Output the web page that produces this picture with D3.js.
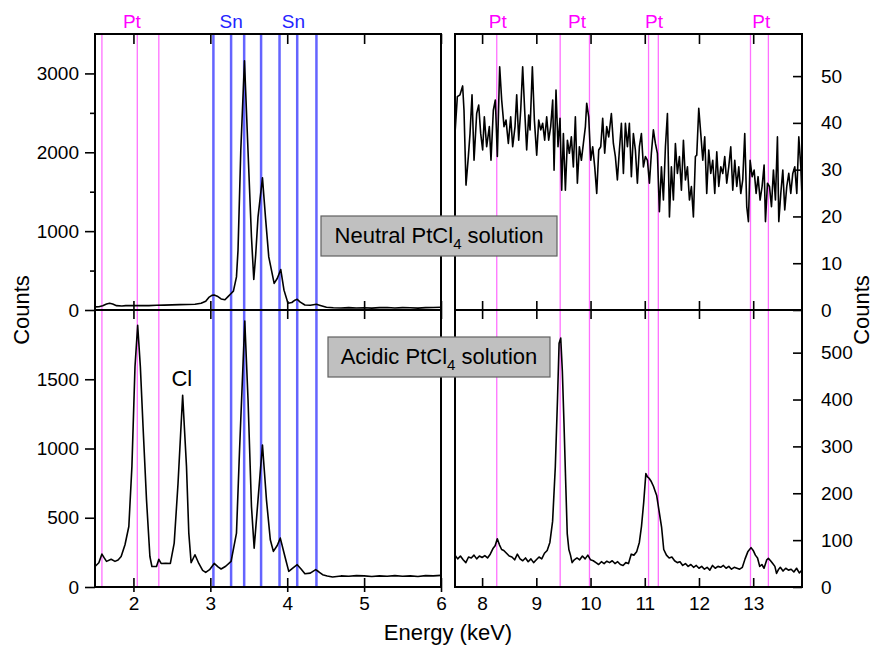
<!DOCTYPE html>
<html>
<head>
<meta charset="utf-8">
<script src="https://cdn.jsdelivr.net/npm/d3@7"></script>
<style>
  body { margin: 0; background: #fff; }
  svg { display: block; font-family: "Liberation Sans", Arial, sans-serif; }
</style>
</head>
<body>
<script>
// emission line energies (keV)
const ptLinesLow = [1.59, 2.05, 2.33];
const snLines = [3.04, 3.27, 3.44, 3.66, 3.90, 4.13, 4.38];
const ptLinesHigh = [8.27, 9.44, 9.98, 11.07, 11.25, 12.95, 13.28];

// labels above the frame
const lowLabels = ["Pt", "Sn", "Sn"];
const lowLabelEnergies = [1.98, 3.27, 4.08];
const highLabels = ["Pt", "Pt", "Pt", "Pt"];
const highLabelEnergies = [8.29, 9.75, 11.17, 13.15];

// tick values
const xTicksLow = [2, 3, 4, 5, 6];
const xTicksHigh = [8, 9, 10, 11, 12, 13];
const yTicksTL = [0, 1000, 2000, 3000];
const yMinorTL = [500, 1500, 2500];
const yTicksBL = [0, 500, 1000, 1500];
const yTicksTR = [0, 10, 20, 30, 40, 50];
const yTicksBR = [0, 100, 200, 300, 400, 500];

// spectra [keV, counts]
const neutralLow = [[1.50,40],[1.55,42],[1.60,55],[1.65,75],[1.69,85],[1.73,75],[1.78,55],[1.85,50],[1.90,55],[2.00,55],[2.10,58],[2.20,55],[2.30,60],[2.40,62],[2.50,65],[2.60,68],[2.70,70],[2.80,72],[2.88,85],[2.94,110],[2.98,160],[3.02,185],[3.05,190],[3.09,175],[3.14,140],[3.19,130],[3.23,170],[3.27,210],[3.30,240],[3.34,420],[3.36,758],[3.396,2020],[3.444,3160],[3.49,2020],[3.535,925],[3.565,387],[3.59,700],[3.62,1178],[3.678,1675],[3.717,1178],[3.76,673],[3.83,337],[3.87,400],[3.916,513],[3.958,252],[4.01,85],[4.06,95],[4.10,125],[4.13,135],[4.17,100],[4.23,63],[4.30,60],[4.38,72],[4.42,60],[4.51,34],[4.60,28],[4.70,25],[4.80,30],[4.90,26],[5.00,28],[5.10,24],[5.20,30],[5.30,32],[5.40,26],[5.50,30],[5.60,28],[5.70,24],[5.80,30],[5.90,32],[6.00,35]];

const acidicLow = [[1.50,148],[1.55,175],[1.59,238],[1.62,210],[1.65,185],[1.71,200],[1.76,185],[1.80,195],[1.84,220],[1.89,305],[1.94,437],[1.98,869],[2.02,1589],[2.055,1890],[2.09,1589],[2.125,1157],[2.17,629],[2.214,220],[2.24,148],[2.30,148],[2.33,200],[2.36,170],[2.42,172],[2.48,170],[2.53,317],[2.58,749],[2.64,1385],[2.69,869],[2.72,389],[2.75,175],[2.80,233],[2.85,170],[2.90,120],[2.94,105],[2.99,125],[3.05,170],[3.10,145],[3.14,130],[3.20,150],[3.27,185],[3.34,389],[3.38,989],[3.448,1921],[3.49,1357],[3.535,581],[3.57,281],[3.62,629],[3.678,1025],[3.73,629],[3.78,341],[3.82,257],[3.87,300],[3.91,353],[3.97,220],[4.02,113],[4.08,140],[4.13,161],[4.18,130],[4.23,96],[4.30,100],[4.37,125],[4.41,110],[4.46,89],[4.52,80],[4.59,72],[4.70,80],[4.80,78],[4.90,82],[5.00,80],[5.10,76],[5.20,80],[5.30,78],[5.40,82],[5.50,78],[5.60,80],[5.70,76],[5.80,82],[5.90,80],[6.00,84]];

const neutralHigh = [[7.500,37.7],[7.543,45.6],[7.592,46],[7.641,47.9],[7.666,42.7],[7.703,26.7],[7.746,32.8],[7.777,37.7],[7.814,46],[7.851,32],[7.900,42],[7.937,43.8],[7.974,37.7],[8.010,34.2],[8.041,41.3],[8.084,34.9],[8.133,39.2],[8.164,32],[8.207,42.7],[8.244,44.9],[8.281,32.8],[8.324,52],[8.361,44.9],[8.404,39.2],[8.441,40.6],[8.484,35.6],[8.527,41.3],[8.564,34.9],[8.607,39.2],[8.638,46],[8.675,36.3],[8.712,42.7],[8.748,52],[8.785,42.7],[8.822,34.2],[8.859,41.7],[8.884,38.5],[8.927,52],[8.964,40.6],[9.007,33.1],[9.044,40.6],[9.081,38.5],[9.117,39.9],[9.154,36.3],[9.191,41.3],[9.228,36.3],[9.265,39.2],[9.302,44.9],[9.327,29.9],[9.363,47],[9.400,34.9],[9.437,41],[9.468,25.6],[9.499,37.7],[9.536,25.6],[9.573,36.3],[9.609,33.5],[9.646,37],[9.683,30.6],[9.720,41.3],[9.757,27.1],[9.794,34.9],[9.831,32],[9.868,35.6],[9.905,39.2],[9.929,44.2],[9.966,41.3],[10.003,32],[10.040,34.9],[10.077,30.6],[10.114,24.9],[10.151,34.2],[10.188,34.9],[10.224,41],[10.261,33.5],[10.298,39.2],[10.335,37],[10.384,42],[10.421,35.6],[10.458,32.8],[10.495,27.8],[10.532,34.2],[10.569,39.9],[10.606,29.2],[10.643,39.9],[10.680,34.9],[10.716,39.9],[10.753,28.5],[10.790,37.7],[10.827,34.2],[10.864,27.1],[10.901,34.9],[10.938,37.7],[10.975,30.6],[11.012,32.8],[11.049,32],[11.086,27.1],[11.122,33.5],[11.159,38.5],[11.196,35.6],[11.233,33.5],[11.270,21],[11.307,30.6],[11.344,23.5],[11.381,34.9],[11.418,42],[11.455,19.9],[11.491,30.6],[11.528,23.5],[11.565,35.6],[11.602,29.2],[11.639,32.8],[11.676,25.6],[11.713,36.3],[11.750,27.8],[11.787,30.6],[11.824,23.5],[11.860,26.4],[11.897,19.9],[11.934,32.8],[11.959,33.1],[11.996,43.1],[12.033,37.7],[12.070,32],[12.106,37],[12.143,24.9],[12.180,34.2],[12.217,29.2],[12.254,32],[12.291,24.9],[12.328,33.8],[12.365,26.4],[12.402,30.6],[12.439,29.2],[12.475,32.8],[12.512,27.1],[12.549,30.6],[12.586,34.9],[12.623,25.6],[12.660,32],[12.697,26.4],[12.734,30.6],[12.771,24.9],[12.807,27.8],[12.844,37.7],[12.881,22.1],[12.912,18.9],[12.943,32],[12.980,28.5],[13.017,29.9],[13.054,24.9],[13.090,28.5],[13.127,23.5],[13.164,26.4],[13.201,31],[13.226,18.9],[13.263,27.1],[13.300,26.4],[13.337,22.1],[13.373,29.9],[13.410,23.5],[13.447,37],[13.472,18.9],[13.509,24.9],[13.546,29.9],[13.582,21.4],[13.619,26.4],[13.656,29.2],[13.693,24.9],[13.730,29.2],[13.767,30.6],[13.804,24.9],[13.841,37],[13.878,30.6],[13.900,24.2]];

const acidicHigh = [[7.50,68],[7.55,60],[7.60,66],[7.65,58],[7.70,52],[7.75,64],[7.80,62],[7.85,68],[7.90,60],[7.95,66],[8.00,63],[8.05,67],[8.10,62],[8.15,70],[8.20,82],[8.24,88],[8.28,103],[8.32,90],[8.36,80],[8.40,78],[8.45,72],[8.50,66],[8.55,64],[8.60,58],[8.65,70],[8.70,60],[8.75,56],[8.80,62],[8.85,54],[8.90,60],[8.95,52],[9.00,58],[9.05,64],[9.10,60],[9.15,72],[9.20,78],[9.25,95],[9.30,140],[9.35,256],[9.39,399],[9.42,520],[9.45,531],[9.48,460],[9.51,350],[9.54,230],[9.57,114],[9.60,80],[9.63,68],[9.66,52],[9.70,58],[9.75,62],[9.80,58],[9.85,66],[9.90,60],[9.95,68],[10.00,58],[10.05,56],[10.10,52],[10.15,48],[10.20,54],[10.25,50],[10.30,55],[10.35,52],[10.40,56],[10.45,50],[10.50,54],[10.55,48],[10.60,46],[10.65,52],[10.70,50],[10.75,70],[10.80,68],[10.85,75],[10.90,95],[10.94,130],[10.98,180],[11.02,242],[11.05,235],[11.08,232],[11.12,225],[11.16,215],[11.19,205],[11.22,195],[11.26,165],[11.31,128],[11.35,80],[11.40,68],[11.45,62],[11.50,64],[11.55,56],[11.60,52],[11.65,54],[11.70,46],[11.75,50],[11.80,44],[11.85,48],[11.90,42],[11.95,46],[12.00,40],[12.05,44],[12.10,38],[12.15,42],[12.20,36],[12.25,46],[12.30,40],[12.35,44],[12.40,42],[12.45,46],[12.50,40],[12.55,44],[12.60,38],[12.65,42],[12.70,40],[12.75,38],[12.80,42],[12.85,60],[12.90,75],[12.96,84],[13.00,78],[13.04,68],[13.08,62],[13.12,44],[13.16,48],[13.20,40],[13.25,58],[13.28,61],[13.32,56],[13.36,50],[13.40,44],[13.43,29],[13.47,38],[13.50,42],[13.55,34],[13.60,40],[13.65,36],[13.70,38],[13.75,32],[13.80,40],[13.85,30],[13.90,36]];

let width = 875;
let height = 647;
let yTop = 34, yMid = 310, yBot = 587;

let svg = d3.select('body').append('svg')
    .attr('width', width)
    .attr('height', height);

svg.append('rect').attr('width', width).attr('height', height).attr('fill', '#fff');

let xL = d3.scaleLinear().domain([1.5, 6]).range([95, 441]);
let xR = d3.scaleLinear().domain([7.5, 13.9]).range([455, 802]);
let yTL = d3.scaleLinear().domain([0, 3500]).range([yMid, yTop]);
let yBL = d3.scaleLinear().domain([0, 2000]).range([yBot, yMid]);
let yTR = d3.scaleLinear().domain([0, 59]).range([yMid, yTop]);
let yBR = d3.scaleLinear().domain([0, 591]).range([yBot, yMid]);

// clip paths
let defs = svg.append('defs');
defs.append('clipPath').attr('id', 'clipT-L').append('rect')
    .attr('x', 95).attr('y', yTop).attr('width', 346).attr('height', yMid - yTop);
defs.append('clipPath').attr('id', 'clipB-L').append('rect')
    .attr('x', 95).attr('y', yMid).attr('width', 346).attr('height', yBot - yMid);
defs.append('clipPath').attr('id', 'clipT-R').append('rect')
    .attr('x', 455).attr('y', yTop).attr('width', 347).attr('height', yMid - yTop);
defs.append('clipPath').attr('id', 'clipB-R').append('rect')
    .attr('x', 455).attr('y', yMid).attr('width', 347).attr('height', yBot - yMid);

// emission lines
const drawLines = (vals, x, color, w) => {
    svg.append('g').selectAll('line')
        .data(vals)
        .enter()
        .append('line')
        .attr('x1', d => x(d)).attr('x2', d => x(d))
        .attr('y1', yTop).attr('y2', yBot)
        .attr('stroke', color)
        .attr('stroke-width', w);
};
drawLines(ptLinesLow, xL, '#ff70ff', 1.3);
drawLines(snLines, xL, '#6464ff', 2.5);
drawLines(ptLinesHigh, xR, '#ff70ff', 1.3);

// spectra
const drawSpec = (data, x, y, clip) => {
    let line = d3.line().x(d => x(d[0])).y(d => y(d[1]));
    svg.append('path')
        .datum(data)
        .attr('clip-path', 'url(#' + clip + ')')
        .attr('d', line)
        .attr('fill', 'none')
        .attr('stroke', '#000')
        .attr('stroke-width', 1.6)
        .attr('stroke-linejoin', 'round');
};
drawSpec(neutralLow, xL, yTL, 'clipT-L');
drawSpec(acidicLow, xL, yBL, 'clipB-L');
drawSpec(neutralHigh, xR, yTR, 'clipT-R');
drawSpec(acidicHigh, xR, yBR, 'clipB-R');

// axes
const styleAxis = (g) => {
    g.select('.domain').remove();
    g.selectAll('.tick line').attr('stroke', '#000').attr('stroke-width', 1.6);
    g.selectAll('.tick text').attr('font-size', '19px').attr('fill', '#000')
        .attr('font-family', '"Liberation Sans", Arial, sans-serif');
};
const noLabel = () => '';

// x axes, left and right panels
[[xL, xTicksLow], [xR, xTicksHigh]].forEach(([x, ticks]) => {
    // top edge, inward
    svg.append('g').attr('transform', 'translate(0,' + yTop + ')')
        .call(d3.axisTop(x).tickValues(ticks).tickSize(-10).tickFormat(noLabel)).call(styleAxis);
    // middle line, both sides
    svg.append('g').attr('transform', 'translate(0,' + yMid + ')')
        .call(d3.axisTop(x).tickValues(ticks).tickSize(9).tickFormat(noLabel)).call(styleAxis);
    svg.append('g').attr('transform', 'translate(0,' + yMid + ')')
        .call(d3.axisBottom(x).tickValues(ticks).tickSize(9).tickFormat(noLabel)).call(styleAxis);
    // bottom, inward with labels
    svg.append('g').attr('transform', 'translate(0,' + yBot + ')')
        .call(d3.axisBottom(x).tickValues(ticks).tickSize(-9).tickPadding(10).tickFormat(d3.format('d'))).call(styleAxis);
});
// small outward stub on the left bottom axis
svg.append('g').attr('transform', 'translate(0,' + yBot + ')')
    .call(d3.axisBottom(xL).tickValues(xTicksLow).tickSize(5).tickFormat(noLabel)).call(styleAxis);

// left y axes, outward
svg.append('g').attr('transform', 'translate(95,0)')
    .call(d3.axisLeft(yTL).tickValues(yTicksTL).tickSize(10).tickPadding(6).tickFormat(d3.format('d'))).call(styleAxis);
svg.append('g').attr('transform', 'translate(95,0)')
    .call(d3.axisLeft(yTL).tickValues(yMinorTL).tickSize(5).tickFormat(noLabel)).call(styleAxis);
svg.append('g').attr('transform', 'translate(95,0)')
    .call(d3.axisLeft(yBL).tickValues(yTicksBL).tickSize(10).tickPadding(6).tickFormat(d3.format('d'))).call(styleAxis);

// right y axes, inward
svg.append('g').attr('transform', 'translate(802,0)')
    .call(d3.axisRight(yTR).tickValues(yTicksTR).tickSize(-9).tickPadding(19).tickFormat(d3.format('d'))).call(styleAxis);
svg.append('g').attr('transform', 'translate(802,0)')
    .call(d3.axisRight(yBR).tickValues(yTicksBR).tickSize(-9).tickPadding(19).tickFormat(d3.format('d'))).call(styleAxis);

// frames
[[95, 441], [455, 802]].forEach(([a, b]) => {
    svg.append('rect')
        .attr('x', a).attr('y', yTop)
        .attr('width', b - a).attr('height', yBot - yTop)
        .attr('fill', 'none').attr('stroke', '#000').attr('stroke-width', 2);
    svg.append('line')
        .attr('x1', a).attr('x2', b).attr('y1', yMid).attr('y2', yMid)
        .attr('stroke', '#000').attr('stroke-width', 2);
});

// line labels above plot
const drawLabels = (labels, energies, x) => {
    svg.append('g').selectAll('text')
        .data(labels)
        .enter()
        .append('text')
        .attr('x', (d, i) => x(energies[i]))
        .attr('y', 28)
        .attr('text-anchor', 'middle')
        .attr('font-size', '19px')
        .attr('fill', d => d === 'Pt' ? '#ff00ff' : '#2525ff')
        .text(d => d);
};
drawLabels(lowLabels, lowLabelEnergies, xL);
drawLabels(highLabels, highLabelEnergies, xR);

// Cl label
svg.append('text')
    .attr('x', xL(2.63)).attr('y', 386)
    .attr('text-anchor', 'middle')
    .attr('font-size', '22px')
    .text('Cl');

// sample boxes
const drawBox = (x0, y0, w, h, name) => {
    svg.append('rect')
        .attr('x', x0).attr('y', y0).attr('width', w).attr('height', h)
        .attr('fill', '#c0c0c0').attr('stroke', '#606060').attr('stroke-width', 1.2);
    let t = svg.append('text')
        .attr('x', x0 + w / 2).attr('y', y0 + 27)
        .attr('text-anchor', 'middle')
        .attr('font-size', '22px');
    t.append('tspan').text(name + ' PtCl');
    t.append('tspan').attr('dy', 6).attr('font-size', '15px').text('4');
    t.append('tspan').attr('dy', -6).text(' solution');
};
drawBox(321, 216, 236, 40, 'Neutral');
drawBox(328, 337, 222, 40, 'Acidic');

// axis titles
svg.append('text')
    .attr('transform', 'translate(29,' + yMid + ') rotate(-90)')
    .attr('text-anchor', 'middle')
    .attr('font-size', '22px')
    .text('Counts');
svg.append('text')
    .attr('transform', 'translate(869,' + yMid + ') rotate(-90)')
    .attr('text-anchor', 'middle')
    .attr('font-size', '22px')
    .text('Counts');
svg.append('text')
    .attr('x', 448).attr('y', 640)
    .attr('text-anchor', 'middle')
    .attr('font-size', '22px')
    .text('Energy (keV)');
</script>
</body>
</html>
